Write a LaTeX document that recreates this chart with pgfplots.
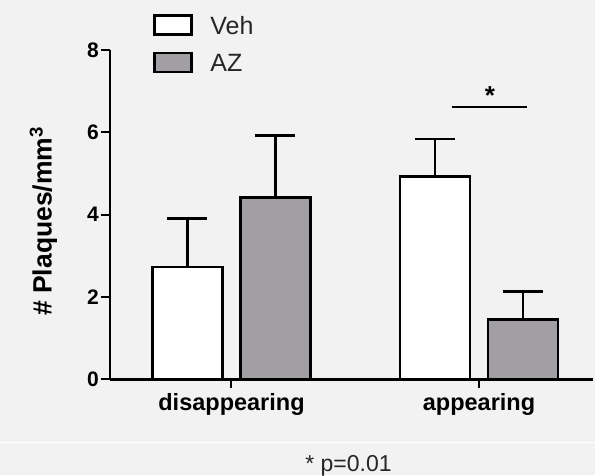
\documentclass[border=0pt]{standalone}
\usepackage{fontspec}
\setmainfont{Liberation Sans}
\usepackage{pgfplots}
\pgfplotsset{compat=1.18}
\definecolor{bg}{HTML}{F2F2F2}
\definecolor{azgray}{HTML}{A19FA4}

\begin{document}
\begin{tikzpicture}
\fill[bg] (0pt,0pt) rectangle (595pt,475pt);
\useasboundingbox (0pt,0pt) rectangle (595pt,475pt);
\draw[white, line width=1pt] (0pt,32.5pt) -- (595pt,32.5pt);
\node[anchor=base, text=black!85, font=\fontsize{23}{25}\selectfont] at (348.5pt,4pt) {* p=0.01};

\begin{axis}[
  at={(110pt,95.7pt)}, anchor=south west,
  scale only axis,
  width=483pt, height=329.3pt,
  xmin=-0.4909, xmax=1.4606,
  ymin=0, ymax=8,
  axis lines*=left,
  axis line style={line width=2.6pt, black},
  xtick={0,1},
  xticklabels={disappearing,appearing},
  ytick={0,2,4,6,8},
  tick align=outside,
  major tick length=9pt,
  tick style={line width=2pt, black},
  x tick label style={font=\bfseries\fontsize{23.5}{26}\selectfont, inner sep=2pt, yshift=-3pt},
  y tick label style={font=\bfseries\fontsize{21}{24}\selectfont, inner sep=2pt},
  /pgf/number format/assume math mode=true,
  ylabel={\bfseries\# Plaques/mm\textsuperscript{3}},
  ylabel style={at={(axis description cs:-0.138,0.48)}, anchor=center,
    font=\fontsize{26.5}{28}\selectfont},
  ybar=18pt,
  bar width=70pt,
  legend entries={Veh,AZ},
  legend image code/.code={\draw[#1, line width=2.4pt] (0pt,-9.5pt) rectangle (37pt,9.5pt);
    \path[draw=none, fill=none] (0pt,0pt) -- (55pt,0pt);},
  legend style={at={(axis description cs:0.089,1.109)}, anchor=north west,
    draw=none, fill=none, inner sep=0pt, row sep=16pt,
    font=\fontsize{25}{27}\selectfont, text=black!85,
    nodes={inner sep=1pt, text depth=0pt}},
  legend cell align=left,
]
\addplot[fill=white, draw=black, line width=2.6pt,
  error bars/.cd, y dir=plus, y explicit,
  error bar style={line width=2.6pt, black},
  error mark options={rotate=90, mark size=20pt, line width=2.6pt, black}]
  coordinates {(0,2.73) +- (0,1.18) (1,4.92) +- (0,0.92)};
\addplot[fill=azgray, draw=black, line width=2.6pt,
  error bars/.cd, y dir=plus, y explicit,
  error bar style={line width=2.6pt, black},
  error mark options={rotate=90, mark size=20pt, line width=2.6pt, black}]
  coordinates {(0,4.42) +- (0,1.51) (1,1.46) +- (0,0.68)};
\draw[line width=1.6pt] (axis cs:0.891,6.61) -- (axis cs:1.194,6.61);
\node[font=\bfseries\fontsize{26}{28}\selectfont] at (axis cs:1.044,6.9) {*};
\end{axis}
\end{tikzpicture}
\end{document}
